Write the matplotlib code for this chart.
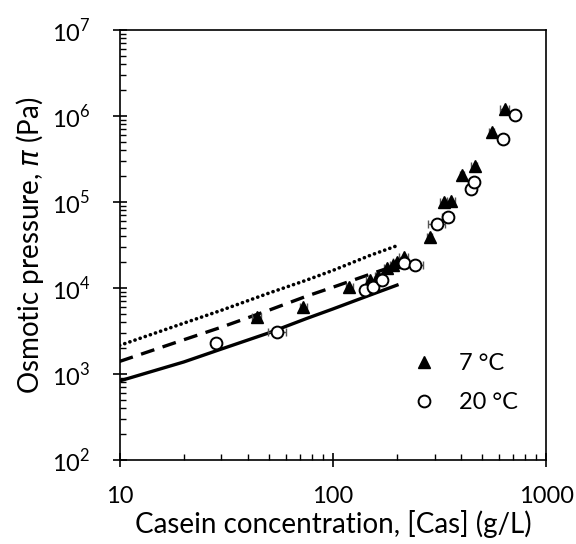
import matplotlib
matplotlib.use("Agg")
import matplotlib.pyplot as plt
from matplotlib.ticker import LogLocator, NullFormatter

# ---- data ----
t7_x = [44.0, 72.8, 119.7, 149.8, 163, 179.5, 192, 200, 214.8, 284.5, 331, 358, 403, 462, 558, 640]
t7_y = [4640, 6070, 10190, 12400, 13800, 16900, 18500, 20000, 23100, 39500, 100700, 103500, 206000, 262000, 656000, 1200000]
t7_xerr = [2, 3, 5, 7, 5, 6, 6, 8, 10, 8, 12, 15, 10, 15, 15, 30]

t20_x = [28.4, 55, 142, 155, 170, 215, 244, 308, 346, 445, 458, 629, 713]
t20_y = [2290, 3100, 9480, 10190, 12400, 19700, 18500, 55500, 67500, 140000, 172000, 536000, 1030000]
t20_xerr = [1, 5.5, 4, 5, 6, 8, 20, 28, 20, 10, 10, 15, 10]

line_x = [10, 20, 30, 50, 75, 100, 150, 200]
solid_y = [830, 1380, 1950, 3000, 4400, 5700, 8300, 10800]
dashed_y = [1400, 2500, 3500, 5500, 8000, 10200, 14500, 18500]
dotted_y = [2150, 3900, 5500, 8700, 12300, 16000, 24000, 31000]

plt.rcParams['font.family'] = ['Lato', 'DejaVu Sans']
plt.rcParams['mathtext.fontset'] = 'custom'
plt.rcParams['mathtext.rm'] = 'Lato'
plt.rcParams['mathtext.it'] = 'DejaVu Sans:italic'

fig = plt.figure(figsize=(5.76, 5.44), dpi=100)
ax = fig.add_axes([0.2076, 0.1544, 0.948 - 0.2076, 0.9449 - 0.1544])

ax.plot(line_x, solid_y, '-', color='black', lw=2.4, zorder=2)
ax.plot(line_x, dashed_y, color='black', lw=2.4, dashes=(4.2, 2.6), zorder=2)
ax.plot(line_x, dotted_y, color='black', lw=2.6, linestyle=(0, (0.05, 1.45)),
        dash_capstyle='round', zorder=2)

ax.errorbar(t7_x, t7_y, xerr=t7_xerr, fmt='none', ecolor='#555555',
            elinewidth=1, capsize=3, zorder=3)
ax.errorbar(t20_x, t20_y, xerr=t20_xerr, fmt='none', ecolor='#555555',
            elinewidth=1, capsize=3, zorder=3)
ax.plot(t7_x, t7_y, '^', color='black', ms=8, mec='black', ls='none',
        zorder=4, label='7 °C')
ax.plot(t20_x, t20_y, 'o', mfc='white', mec='black', mew=1.4, ms=8.5,
        ls='none', zorder=5, label='20 °C')

ax.set_xscale('log')
ax.set_yscale('log')
ax.set_xlim(10, 1000)
ax.set_ylim(1e2, 1e7)

ax.xaxis.set_minor_locator(LogLocator(base=10, subs=range(2, 10), numticks=20))
ax.yaxis.set_minor_locator(LogLocator(base=10, subs=range(2, 10), numticks=20))
ax.xaxis.set_minor_formatter(NullFormatter())
ax.yaxis.set_minor_formatter(NullFormatter())
ax.set_xticks([10, 100, 1000])
ax.set_xticklabels(['10', '100', '1000'])
ax.set_yticks([1e2, 1e3, 1e4, 1e5, 1e6, 1e7])
ax.set_yticklabels([r'$10^{%d}$' % k for k in range(2, 8)])

ax.tick_params(which='major', direction='inout', length=10, width=1.2,
               labelsize=17)
ax.tick_params(axis='x', which='major', pad=14)
ax.tick_params(axis='y', which='major', pad=16)
ax.tick_params(which='minor', direction='in', length=4, width=1.0)
ax.tick_params(top=False, right=False, which='both')
for s in ax.spines.values():
    s.set_linewidth(1.2)

ax.set_xlabel('Casein concentration, [Cas] (g/L)', fontsize=20, labelpad=2)
ax.set_ylabel(r'Osmotic pressure, $\pi$ (Pa)', fontsize=20, labelpad=4)

ax.legend(loc='lower right', bbox_to_anchor=(0.985, 0.06), frameon=False,
          fontsize=17, handletextpad=0.5, labelspacing=0.75, markerscale=1.0)

fig.savefig('out.png', dpi=100)
